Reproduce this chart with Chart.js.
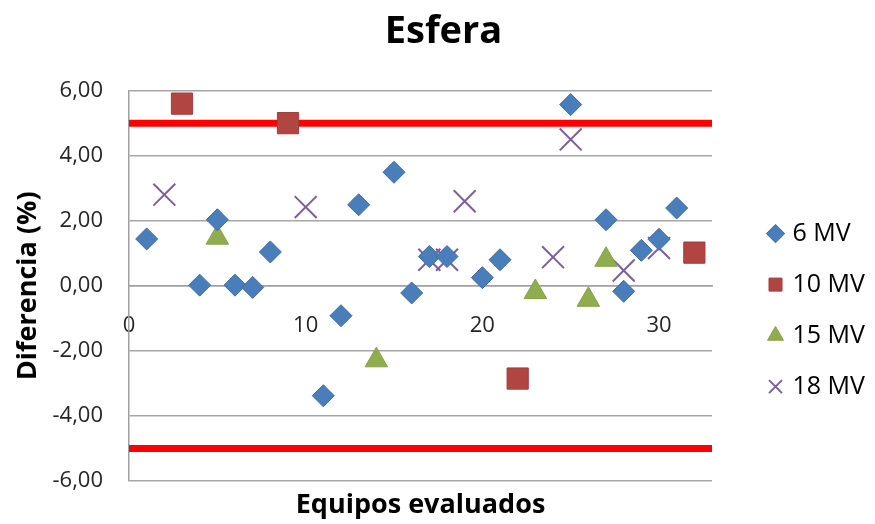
<!DOCTYPE html>
<html lang="es">
<head>
<meta charset="UTF-8">
<title>Esfera</title>
<script src="https://cdn.jsdelivr.net/npm/chart.js"></script>
<style>
  body { margin: 0; background: #ffffff; }
  #grafico { display: block; }
</style>
</head>
<body>
<canvas id="grafico" width="875" height="524"></canvas>
<script>
// datos (equipo, diferencia %)
const x6 = [1, 4, 5, 6, 7, 8, 11, 12, 13, 15, 16, 17, 18, 20, 21, 25, 27, 28, 29, 30, 31];
const y6 = [1.44, 0.02, 2.03, 0.02, -0.05, 1.04, -3.38, -0.92, 2.49, 3.49, -0.22, 0.9, 0.9, 0.25, 0.8, 5.57, 2.03, -0.17, 1.09, 1.43, 2.39];

const x10 = [3, 9, 22, 32];
const y10 = [5.6, 5.0, -2.85, 1.02];

const x15 = [5, 14, 23, 26, 27];
const y15 = [1.48, -2.29, -0.19, -0.43, 0.8];

const x18 = [2, 10, 17, 18, 19, 24, 25, 28, 30];
const y18 = [2.8, 2.42, 0.8, 0.8, 2.6, 0.88, 4.5, 0.47, 1.16];

// limites de tolerancia
const limiteX = [0, 33];
const limiteSup = [5, 5];
const limiteInf = [-5, -5];

const yTicks = [-6, -4, -2, 0, 2, 4, 6];
const xTicks = [0, 10, 20, 30];

const fuente = "'Open Sans', sans-serif";

function puntos(xs, ys) {
    return xs.map((x, i) => ({ x: x, y: ys[i] }));
}

const ctx = document.getElementById("grafico");

new Chart(ctx, {
    type: "scatter",
    data: {
        datasets: [
            {
                label: "6 MV",
                data: puntos(x6, y6),
                pointStyle: "rectRot",
                pointRadius: 11,
                pointBackgroundColor: "#4a7ebb",
                pointBorderColor: "#3d6ba3",
                pointBorderWidth: 1,
                order: 1
            },
            {
                label: "10 MV",
                data: puntos(x10, y10),
                pointStyle: "rect",
                pointRadius: 15,
                pointBackgroundColor: "#b04542",
                pointBorderColor: "#a03e3c",
                pointBorderWidth: 1,
                order: 1
            },
            {
                label: "15 MV",
                data: puntos(x15, y15),
                pointStyle: "triangle",
                pointRadius: 13,
                pointBackgroundColor: "#8fac4f",
                pointBorderColor: "#86a24a",
                pointBorderWidth: 1,
                order: 1
            },
            {
                label: "18 MV",
                data: puntos(x18, y18),
                pointStyle: "crossRot",
                pointRadius: 15.5,
                pointBackgroundColor: "#7b5f9e",
                pointBorderColor: "#7b5f9e",
                pointBorderWidth: 2,
                order: 1
            },
            {
                label: "limite superior",
                data: puntos(limiteX, limiteSup),
                showLine: true,
                borderColor: "#ff0000",
                borderWidth: 7,
                pointRadius: 0,
                order: 10
            },
            {
                label: "limite inferior",
                data: puntos(limiteX, limiteInf),
                showLine: true,
                borderColor: "#ff0000",
                borderWidth: 7,
                pointRadius: 0,
                order: 10
            }
        ]
    },
    options: {
        responsive: false,
        animation: false,
        layout: { padding: { left: 12, right: 0, top: 0, bottom: 0 } },
        plugins: {
            tooltip: { enabled: false },
            title: {
                display: true,
                text: "Esfera",
                color: "#000000",
                font: { family: fuente, size: 38, weight: "bold" },
                padding: { top: 9, bottom: 36 }
            },
            legend: {
                position: "right",
                // titulo vacio solo para bajar los elementos de la leyenda
                title: {
                    display: true,
                    text: " ",
                    font: { family: fuente, size: 1 },
                    padding: { top: 95, bottom: 0 }
                },
                labels: {
                    usePointStyle: true,
                    boxWidth: 9,
                    boxHeight: 13,
                    padding: 26,
                    color: "#000000",
                    font: { family: fuente, size: 25 },
                    filter: item => item.text.indexOf("limite") === -1
                }
            }
        },
        scales: {
            x: {
                type: "linear",
                position: { y: 0 },
                min: 0,
                max: 33,
                afterBuildTicks: s => { s.ticks = xTicks.map(v => ({ value: v })); },
                ticks: {
                    padding: 19,
                    color: "#262626",
                    font: { family: fuente, size: 22 }
                },
                grid: { display: false },
                border: { display: true, color: "#a0a0a0", width: 1.5 }
            },
            x2: {
                type: "linear",
                position: "bottom",
                min: 0,
                max: 33,
                afterFit: s => { s.height = 43; },
                ticks: { display: false },
                grid: { display: false },
                border: { display: false },
                title: {
                    display: true,
                    text: "Equipos evaluados",
                    color: "#000000",
                    font: { family: fuente, size: 27, weight: "bold" },
                    padding: { top: 0, bottom: 2 }
                }
            },
            y: {
                min: -6,
                max: 6,
                afterFit: s => { s.width = 117; },
                afterBuildTicks: s => { s.ticks = yTicks.map(v => ({ value: v })); },
                ticks: {
                    padding: 26,
                    color: "#262626",
                    font: { family: fuente, size: 22 },
                    callback: v => v.toFixed(2).replace(".", ",")
                },
                grid: { color: "#a6a6a6", lineWidth: 1.4, drawTicks: false },
                border: { display: true, color: "#a0a0a0", width: 1.5 },
                title: {
                    display: true,
                    text: "Diferencia (%)",
                    color: "#000000",
                    font: { family: fuente, size: 27, weight: "bold" },
                    padding: { top: 0, bottom: 8 }
                }
            },
            y2: {
                position: "right",
                min: -6,
                max: 6,
                afterFit: s => { s.width = 33; },
                ticks: { display: false },
                grid: { display: false },
                border: { display: false }
            }
        }
    }
});
</script>
</body>
</html>
